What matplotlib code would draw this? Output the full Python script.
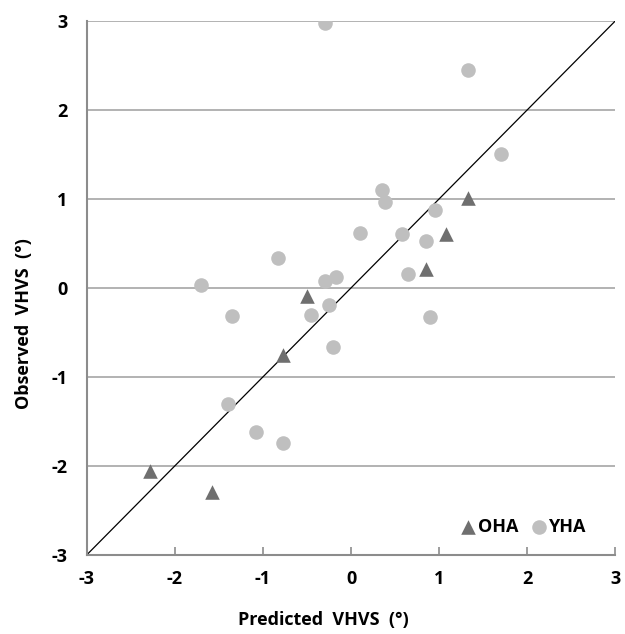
import matplotlib.pyplot as plt
import matplotlib as mpl

mpl.rcParams.update({
    'font.family': ['Open Sans', 'DejaVu Sans'],
    'font.weight': 'bold',
    'font.size': 13,
})

# OHA (triangles)
oha_pred = [1.33, 1.08, 0.85, -0.50, -0.77, -2.28, -1.58]
oha_obs = [1.01, 0.60, 0.21, -0.09, -0.76, -2.06, -2.29]

# YHA (circles)
yha_pred = [-0.30, 1.33, 1.70, 0.35, 0.38, 0.95, 0.10, 0.58, 0.85, 0.65, -0.30, -0.17,
            -0.25, -0.45, 0.90, -0.20, -0.83, -1.70, -1.35, -1.40, -1.08, -0.77]
yha_obs = [2.98, 2.45, 1.50, 1.10, 0.96, 0.87, 0.62, 0.60, 0.53, 0.15, 0.08, 0.12,
           -0.19, -0.30, -0.33, -0.66, 0.33, 0.03, -0.32, -1.31, -1.62, -1.74]

ticks = [-3, -2, -1, 0, 1, 2, 3]

fig = plt.figure(figsize=(6.25, 6.34), dpi=100)
ax = fig.add_axes([0.139, 0.125, 0.8455, 0.842])

grid_color = '#a6a6a6'
for t in ticks:
    ax.axhline(t, color=grid_color, lw=1.2, zorder=0)

ax.plot([-3, 3], [-3, 3], color='black', lw=0.9, zorder=1)

ax.scatter(oha_pred, oha_obs, marker='^', s=110, color='#6f6f6f', linewidths=0,
           label='OHA', zorder=3)
ax.scatter(yha_pred, yha_obs, marker='o', s=110, color='#bfbfbf', linewidths=0,
           label='YHA', zorder=2)

ax.set_xlim(-3, 3)
ax.set_ylim(-3, 3)
ax.set_xticks(ticks)
ax.set_yticks(ticks)
ax.set_xticklabels([str(t) for t in ticks])
ax.set_yticklabels([str(t) for t in ticks])

for side in ['top', 'right']:
    ax.spines[side].set_visible(False)
for side in ['left', 'bottom']:
    ax.spines[side].set_color('#8c8c8c')
    ax.spines[side].set_linewidth(1.5)

ax.tick_params(axis='x', direction='in', length=6, color='#8c8c8c', width=1.2, pad=11)
ax.tick_params(axis='y', length=0, pad=14)

ax.set_xlabel('Predicted  VHVS  (°)', fontweight='bold')
ax.set_ylabel('Observed  VHVS  (°)', fontweight='bold')
ax.xaxis.set_label_coords(0.447, -0.106)
ax.yaxis.set_label_coords(-0.102, 0.434)

ax.legend(loc='lower right', bbox_to_anchor=(0.975, 0.005), frameon=False, ncol=2,
          handletextpad=-0.45, columnspacing=0.1, markerscale=1.0,
          prop={'weight': 'bold', 'size': 13})

fig.savefig('out.png', dpi=100)
